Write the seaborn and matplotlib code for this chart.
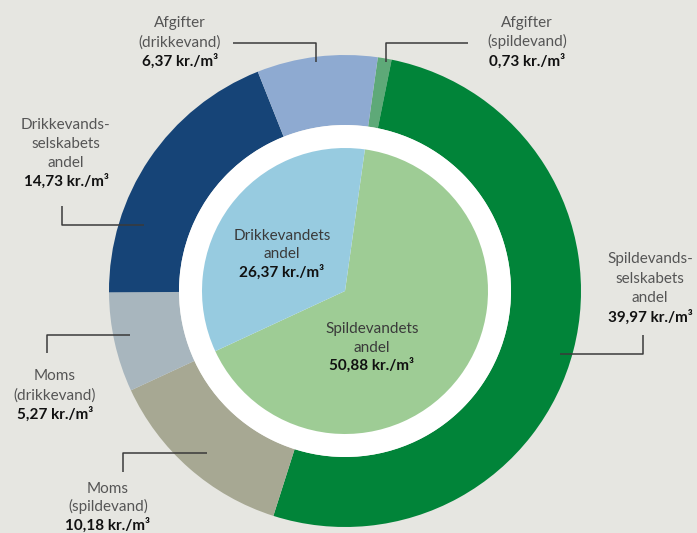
import matplotlib.pyplot as plt
import seaborn as sns

# Data (kr./m3)
outer_names = ["Afgifter\n(spildevand)", "Spildevands-\nselskabets\nandel", "Moms\n(spildevand)",
               "Moms\n(drikkevand)", "Drikkevands-\nselskabets\nandel", "Afgifter\n(drikkevand)"]
outer_values = [0.73, 39.97, 10.18, 5.27, 14.73, 6.37]
inner_names = ["Spildevandets\nandel", "Drikkevandets\nandel"]
inner_values = [50.88, 26.37]

outer_colors = ["#5ea978", "#018439", "#a7a893", "#a8b6be", "#164477", "#8eaad1"]
inner_colors = ["#9ecc95", "#97cbe0"]
BG = "#e6e6e1"

sns.set_theme(style="white")
plt.rcParams['font.family'] = ['Lato', 'DejaVu Sans']

W, H = 697, 533
fig = plt.figure(figsize=(W / 100, H / 100), dpi=100, facecolor=BG)
ax = fig.add_axes([0, 0, 1, 1])
ax.set_facecolor(BG)

def py(y):
    # pixel row -> data y
    return H - y

cx, cy = 345, py(291)

ax.pie(outer_values, radius=236, center=(cx, cy), startangle=82, counterclock=False,
       colors=outer_colors, wedgeprops=dict(width=70, linewidth=0))
ax.add_patch(plt.Circle((cx, cy), 166, color="white", lw=0))
ax.pie(inner_values, radius=143, center=(cx, cy), startangle=82, counterclock=False,
       colors=inner_colors, wedgeprops=dict(linewidth=0))

ax.set_xlim(0, W)
ax.set_ylim(0, H)
ax.set_aspect('equal')
ax.axis('off')

FS = 11
GRAY = "#555555"

def label(x, y0, name, value, step=19.3, color=GRAY):
    lines = name.split("\n")
    for i, ln in enumerate(lines):
        ax.text(x, py(y0 + i * step), ln, ha='center', va='baseline',
                fontsize=FS, color=color)
    ax.text(x, py(y0 + len(lines) * step), f"{value:.2f}".replace(".", ",") + " kr./m³",
            ha='center', va='baseline', fontsize=FS, fontweight='bold', color="#111111")

def leader(pts):
    xs = [p[0] for p in pts]
    ys = [py(p[1]) for p in pts]
    ax.plot(xs, ys, color="#3a3a3a", lw=1.1, solid_capstyle='butt')

# outer labels
label(527, 27, outer_names[0], outer_values[0])
leader([(468, 43), (386, 43), (386, 62)])

label(650, 263, outer_names[1], outer_values[1], step=19.7)
leader([(643, 335), (643, 354), (560, 354)])

label(108, 493, outer_names[2], outer_values[2], step=18.5)
leader([(123, 472), (123, 453), (207, 453)])

label(55, 380, outer_names[3], outer_values[3], step=19.5)
leader([(47, 353), (47, 335), (130, 335)])

label(66, 129, outer_names[4], outer_values[4], step=19)
leader([(62, 206), (62, 225), (144, 225)])

label(180, 27, outer_names[5], outer_values[5])
leader([(233, 43), (316, 43), (316, 62)])

# inner labels
label(282, 240, inner_names[1], inner_values[1], step=18.5, color="#3a3a3a")
label(372, 333, inner_names[0], inner_values[0], step=18.5, color="#3a3a3a")

fig.savefig("out.png", dpi=100, facecolor=BG)
